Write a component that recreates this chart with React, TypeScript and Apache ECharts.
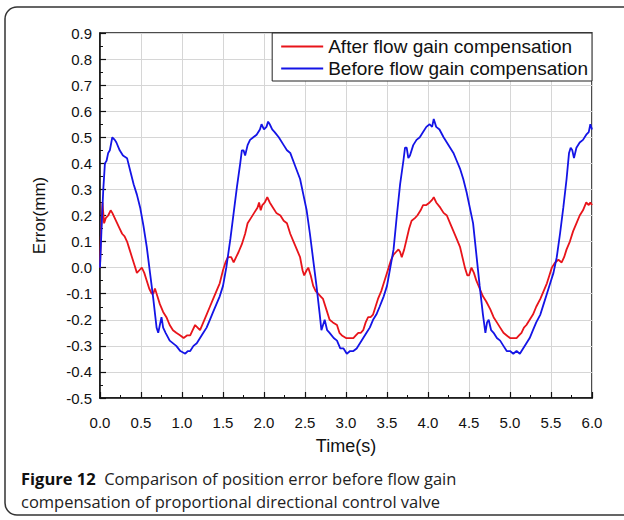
import React, { useEffect, useRef } from "react";
import * as echarts from "echarts";

const seriesNames = ["After flow gain compensation", "Before flow gain compensation"];

const redTime = [0.00,0.01,0.03,0.04,0.05,0.07,0.10,0.13,0.15,0.18,0.21,0.24,0.27,0.30,0.33,0.36,0.39,0.42,0.45,0.48,0.51,0.54,0.57,0.60,0.63,0.65,0.67,0.70,0.73,0.77,0.81,0.85,0.89,0.93,0.98,1.02,1.06,1.10,1.13,1.16,1.19,1.22,1.26,1.30,1.34,1.38,1.42,1.46,1.50,1.53,1.56,1.60,1.63,1.66,1.69,1.73,1.77,1.80,1.84,1.88,1.92,1.94,1.96,1.98,2.01,2.04,2.07,2.11,2.15,2.20,2.24,2.28,2.32,2.36,2.40,2.44,2.47,2.49,2.52,2.54,2.57,2.60,2.63,2.66,2.69,2.72,2.76,2.80,2.84,2.89,2.92,2.95,3.00,3.05,3.09,3.12,3.15,3.18,3.21,3.24,3.27,3.30,3.33,3.36,3.39,3.43,3.46,3.49,3.52,3.55,3.58,3.61,3.64,3.66,3.68,3.71,3.74,3.77,3.80,3.84,3.87,3.91,3.94,3.98,4.02,4.05,4.07,4.10,4.15,4.19,4.23,4.27,4.31,4.35,4.39,4.42,4.45,4.48,4.50,4.53,4.56,4.59,4.63,4.67,4.71,4.76,4.80,4.84,4.88,4.92,4.96,5.00,5.04,5.08,5.11,5.14,5.17,5.20,5.24,5.28,5.32,5.37,5.41,5.45,5.48,5.51,5.55,5.59,5.63,5.66,5.69,5.73,5.77,5.81,5.85,5.89,5.93,5.96,5.98,6.00];
const redError = [0.00,0.12,0.25,0.21,0.17,0.19,0.20,0.22,0.21,0.19,0.17,0.15,0.13,0.12,0.10,0.07,0.04,0.01,-0.02,-0.01,0.00,-0.02,-0.05,-0.08,-0.10,-0.10,-0.08,-0.11,-0.14,-0.17,-0.19,-0.22,-0.24,-0.25,-0.26,-0.27,-0.26,-0.26,-0.24,-0.22,-0.23,-0.24,-0.21,-0.18,-0.15,-0.12,-0.09,-0.06,-0.01,0.02,0.04,0.04,0.02,0.04,0.06,0.09,0.13,0.17,0.19,0.21,0.23,0.25,0.22,0.24,0.25,0.27,0.25,0.23,0.21,0.20,0.18,0.17,0.13,0.10,0.07,0.04,-0.01,-0.03,-0.01,0.00,-0.03,-0.07,-0.09,-0.10,-0.11,-0.12,-0.16,-0.20,-0.21,-0.22,-0.25,-0.26,-0.27,-0.27,-0.27,-0.26,-0.25,-0.25,-0.24,-0.21,-0.19,-0.19,-0.18,-0.15,-0.12,-0.09,-0.06,-0.03,0.00,0.03,0.05,0.06,0.07,0.06,0.04,0.07,0.11,0.15,0.18,0.19,0.20,0.22,0.24,0.24,0.25,0.26,0.27,0.25,0.23,0.21,0.20,0.17,0.14,0.11,0.08,0.04,0.00,-0.03,-0.03,0.00,-0.02,-0.05,-0.08,-0.11,-0.13,-0.16,-0.19,-0.21,-0.23,-0.25,-0.26,-0.27,-0.27,-0.27,-0.26,-0.25,-0.23,-0.22,-0.20,-0.18,-0.15,-0.12,-0.09,-0.06,-0.03,0.00,0.02,0.03,0.02,0.04,0.07,0.10,0.14,0.17,0.20,0.22,0.25,0.24,0.25,0.24];

const blueTime = [0.00,0.02,0.04,0.06,0.08,0.10,0.12,0.15,0.18,0.20,0.24,0.28,0.33,0.37,0.41,0.45,0.49,0.53,0.57,0.61,0.65,0.69,0.71,0.73,0.75,0.77,0.80,0.85,0.93,0.98,1.04,1.07,1.10,1.14,1.18,1.22,1.26,1.30,1.34,1.38,1.42,1.46,1.50,1.54,1.59,1.63,1.67,1.71,1.73,1.75,1.77,1.80,1.83,1.87,1.91,1.95,1.97,2.00,2.03,2.05,2.07,2.10,2.13,2.18,2.24,2.28,2.32,2.38,2.44,2.48,2.52,2.56,2.60,2.64,2.68,2.70,2.72,2.74,2.77,2.80,2.85,2.89,2.93,2.97,3.01,3.05,3.09,3.13,3.17,3.21,3.25,3.29,3.33,3.37,3.41,3.46,3.50,3.54,3.58,3.62,3.66,3.70,3.72,3.74,3.76,3.78,3.82,3.86,3.90,3.94,3.98,4.02,4.05,4.07,4.10,4.14,4.19,4.23,4.27,4.31,4.35,4.39,4.43,4.47,4.51,4.55,4.59,4.63,4.67,4.70,4.72,4.74,4.77,4.80,4.84,4.88,4.92,4.96,5.00,5.04,5.08,5.12,5.16,5.20,5.24,5.28,5.32,5.37,5.41,5.45,5.49,5.53,5.57,5.61,5.65,5.69,5.72,5.74,5.76,5.78,5.81,5.85,5.89,5.93,5.96,5.98,6.00];
const blueError = [0.00,0.16,0.30,0.40,0.41,0.44,0.45,0.50,0.49,0.48,0.45,0.43,0.42,0.37,0.32,0.28,0.23,0.16,0.08,-0.02,-0.12,-0.23,-0.25,-0.22,-0.19,-0.23,-0.25,-0.28,-0.30,-0.32,-0.33,-0.32,-0.32,-0.30,-0.29,-0.27,-0.25,-0.23,-0.20,-0.17,-0.14,-0.11,-0.07,0.00,0.11,0.21,0.31,0.40,0.45,0.45,0.43,0.47,0.49,0.50,0.51,0.53,0.55,0.53,0.54,0.56,0.55,0.53,0.52,0.50,0.47,0.45,0.44,0.39,0.34,0.28,0.22,0.13,0.03,-0.07,-0.18,-0.24,-0.22,-0.20,-0.24,-0.25,-0.27,-0.28,-0.31,-0.31,-0.33,-0.32,-0.32,-0.31,-0.29,-0.27,-0.25,-0.23,-0.20,-0.18,-0.15,-0.11,-0.07,0.00,0.07,0.20,0.32,0.41,0.46,0.46,0.42,0.43,0.47,0.49,0.50,0.52,0.54,0.55,0.54,0.57,0.54,0.53,0.50,0.48,0.46,0.44,0.41,0.38,0.34,0.29,0.23,0.17,0.05,-0.07,-0.18,-0.25,-0.21,-0.20,-0.24,-0.25,-0.27,-0.28,-0.30,-0.32,-0.32,-0.33,-0.32,-0.33,-0.31,-0.29,-0.27,-0.24,-0.21,-0.18,-0.14,-0.10,-0.06,-0.02,0.04,0.13,0.23,0.34,0.44,0.46,0.45,0.42,0.46,0.48,0.49,0.51,0.52,0.55,0.53];

const captionBold = "Figure 12";
const captionLine1 = "Comparison of position error before flow gain";
const captionLine2 = "compensation of proportional directional control valve";
const xTitle = "Time(s)";
const yTitle = "Error(mm)";

const seriesColors = ["#e8141a", "#1414e6"];
const FONT = "'Liberation Sans', Arial, sans-serif";
const CAP_FONT = "'Open Sans', 'Noto Sans', sans-serif";

function zip(t: number[], v: number[]) {
  return t.map((x, i) => [x, v[i]]);
}

export default function App() {
  const ref = useRef<HTMLDivElement>(null);
  useEffect(() => {
    if (!ref.current) return;
    const chart = echarts.init(ref.current, null, { renderer: "svg" });
    const axisLine = { show: true, onZero: false, lineStyle: { color: "#111", width: 1.5 } };
    chart.setOption({
      animation: false,
      backgroundColor: "#fff",
      grid: {
        left: 100,
        right: 32,
        top: 33,
        bottom: 122,
        show: true,
        borderColor: "#111",
        borderWidth: 1.5,
        backgroundColor: "transparent",
      },
      legend: {
        orient: "vertical",
        right: 32,
        top: 33,
        data: seriesNames,
        icon: "rect",
        itemWidth: 42,
        itemHeight: 2,
        itemGap: 3,
        padding: [4, 4, 3, 9],
        borderColor: "#222",
        borderWidth: 1,
        backgroundColor: "#fff",
        textStyle: { fontFamily: FONT, fontSize: 19, color: "#111", lineHeight: 18 },
        z: 10,
      },
      xAxis: {
        type: "value",
        min: 0,
        max: 6,
        interval: 0.5,
        name: xTitle,
        nameLocation: "middle",
        nameGap: 39,
        nameTextStyle: { fontFamily: FONT, fontSize: 18, color: "#111" },
        axisLine,
        axisTick: { show: true, inside: true, length: 6, lineStyle: { color: "#111", width: 1.2 } },
        minorTick: { show: true, splitNumber: 2, length: 3, lineStyle: { color: "#111", width: 1 } },
        axisLabel: {
          fontFamily: FONT,
          fontSize: 15,
          color: "#111",
          margin: 17,
          formatter: (v: number) => v.toFixed(1),
        },
        splitLine: { show: true, lineStyle: { color: "#d6d6d6", width: 1 } },
      },
      yAxis: {
        type: "value",
        min: -0.5,
        max: 0.9,
        interval: 0.1,
        name: yTitle,
        nameLocation: "middle",
        nameGap: 52,
        nameTextStyle: { fontFamily: FONT, fontSize: 17, color: "#111" },
        axisLine,
        axisTick: { show: true, inside: true, length: 6, lineStyle: { color: "#111", width: 1.2 } },
        minorTick: { show: true, splitNumber: 2, length: 3, lineStyle: { color: "#111", width: 1 } },
        axisLabel: {
          fontFamily: FONT,
          fontSize: 15,
          color: "#111",
          margin: 8,
          formatter: (v: number) => v.toFixed(1),
        },
        splitLine: { show: true, lineStyle: { color: "#d6d6d6", width: 1 } },
      },
      series: [
        {
          name: seriesNames[0],
          type: "line",
          data: zip(redTime, redError),
          showSymbol: false,
          color: seriesColors[0],
          lineStyle: { color: seriesColors[0], width: 1.8 },
        },
        {
          name: seriesNames[1],
          type: "line",
          data: zip(blueTime, blueError),
          showSymbol: false,
          color: seriesColors[1],
          lineStyle: { color: seriesColors[1], width: 1.8 },
        },
      ],
      graphic: [
        {
          type: "rect",
          shape: { x: 5, y: 7, width: 650, height: 508, r: 12 },
          style: { fill: "none", stroke: "#333", lineWidth: 1.5 },
          silent: true,
        },
        {
          type: "text",
          left: 21,
          top: 470,
          style: {
            text: "{b|" + captionBold + "}  " + captionLine1,
            font: "16.5px " + CAP_FONT,
            fill: "#222",
            rich: {
              b: { fontWeight: "bold", fontSize: 16.5, fontFamily: CAP_FONT, fill: "#111" },
            },
          },
        },
        {
          type: "text",
          left: 21,
          top: 493,
          style: { text: captionLine2, font: "16.5px " + CAP_FONT, fill: "#222" },
        },
      ],
    });
    return () => chart.dispose();
  }, []);
  return (
    <div
      ref={ref}
      style={{ position: "fixed", left: 0, top: 0, width: 624, height: 520, background: "#fff" }}
    />
  );
}
